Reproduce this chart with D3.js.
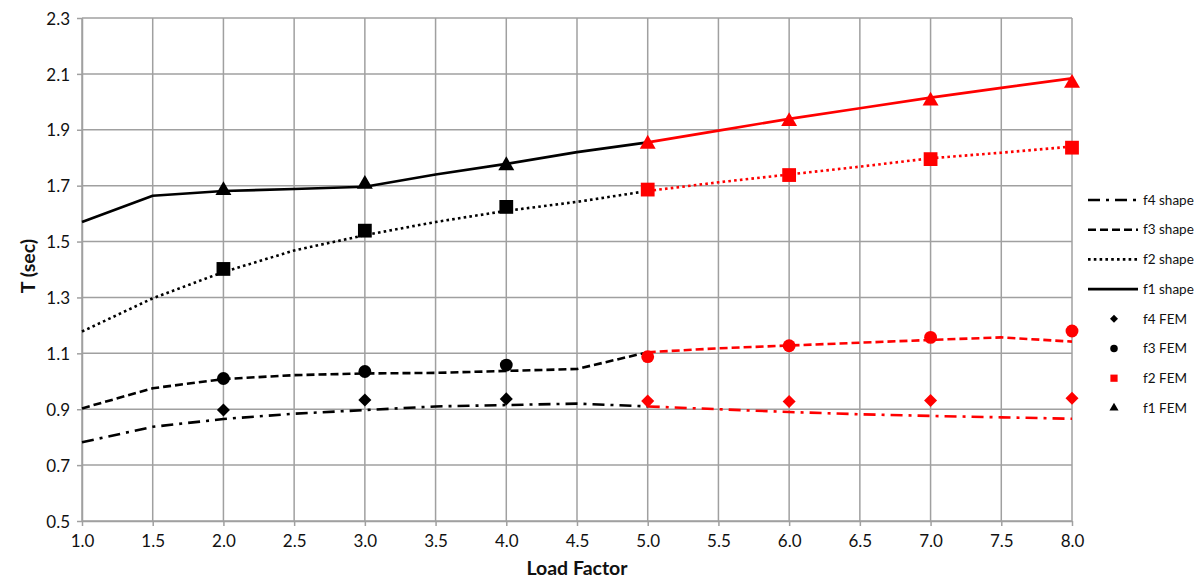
<!DOCTYPE html>
<html>
<head>
<meta charset="utf-8">
<script src="https://cdn.jsdelivr.net/npm/d3@7"></script>
<style>
  html, body { margin: 0; padding: 0; background: #fff; }
  svg { display: block; font-family: Lato, "Open Sans", "Liberation Sans", sans-serif; }
</style>
</head>
<body>
<svg id="chart" width="1204" height="580"></svg>
<script>
// Load factors sampled by the mode-shape curves
const shapeLoad = [1.0, 1.5, 2.0, 2.5, 3.0, 3.5, 4.0, 4.5, 5.0, 5.5, 6.0, 6.5, 7.0, 7.5, 8.0];
// Periods T (sec) from the mode shapes
const f1Shape = [1.570, 1.664, 1.681, 1.688, 1.696, 1.740, 1.778, 1.820, 1.855, 1.897, 1.939, 1.977, 2.015, 2.050, 2.084];
const f2Shape = [1.178, 1.297, 1.391, 1.468, 1.523, 1.570, 1.610, 1.642, 1.681, 1.712, 1.740, 1.768, 1.798, 1.818, 1.840];
const f3Shape = [0.903, 0.975, 1.008, 1.022, 1.028, 1.030, 1.037, 1.044, 1.104, 1.118, 1.128, 1.138, 1.148, 1.157, 1.142];
const f4Shape = [0.782, 0.837, 0.865, 0.884, 0.897, 0.910, 0.915, 0.920, 0.910, 0.900, 0.890, 0.882, 0.876, 0.871, 0.866];

// Load factors of the FEM runs
const femLoad = [2.0, 3.0, 4.0, 5.0, 6.0, 7.0, 8.0];
const f1Fem = [1.683, 1.705, 1.772, 1.849, 1.930, 2.003, 2.067];
const f2Fem = [1.402, 1.539, 1.624, 1.686, 1.738, 1.795, 1.836];
const f3Fem = [1.010, 1.035, 1.058, 1.088, 1.127, 1.157, 1.180];
const f4Fem = [0.897, 0.933, 0.937, 0.929, 0.928, 0.931, 0.939];

// Results at and beyond this load factor are drawn in red
const redFrom = 5.0;

// Axis ticks
const xTicks = [1.0, 1.5, 2.0, 2.5, 3.0, 3.5, 4.0, 4.5, 5.0, 5.5, 6.0, 6.5, 7.0, 7.5, 8.0];
const yTicks = [0.5, 0.7, 0.9, 1.1, 1.3, 1.5, 1.7, 1.9, 2.1, 2.3];

// Legend labels
const shapeLabels = ["f4 shape", "f3 shape", "f2 shape", "f1 shape"];
const femLabels = ["f4 FEM", "f3 FEM", "f2 FEM", "f1 FEM"];

const svg = d3.select("#chart");
const x = d3.scaleLinear().domain([1.0, 8.0]).range([82, 1072]);
const y = d3.scaleLinear().domain([0.5, 2.3]).range([521, 18]);

const gridColor = "#a0a0a0";
const RED = "#ff0000";

// Grid
const grid = svg.append("g");
grid.selectAll("line.v").data(xTicks).join("line")
  .attr("x1", d => x(d)).attr("x2", d => x(d))
  .attr("y1", y(2.3)).attr("y2", y(0.5))
  .attr("stroke", gridColor).attr("stroke-width", 1.5);
grid.selectAll("line.h").data(yTicks).join("line")
  .attr("x1", x(1.0)).attr("x2", x(8.0))
  .attr("y1", d => y(d)).attr("y2", d => y(d))
  .attr("stroke", gridColor).attr("stroke-width", 1.5);

// Axes
const fmt = d3.format(".1f");
const xAxis = svg.append("g").attr("transform", `translate(0,${y(0.5)})`)
  .call(d3.axisBottom(x).tickValues(xTicks).tickFormat(fmt).tickSize(5).tickSizeOuter(0).tickPadding(9));
const yAxis = svg.append("g").attr("transform", `translate(${x(1.0)},0)`)
  .call(d3.axisLeft(y).tickValues(yTicks).tickFormat(fmt).tickSize(5).tickSizeOuter(0).tickPadding(7));
[xAxis, yAxis].forEach(a => {
  a.select(".domain").attr("stroke", gridColor).attr("stroke-width", 1.5);
  a.selectAll(".tick line").attr("stroke", gridColor).attr("stroke-width", 1.5);
  a.selectAll(".tick text").attr("font-size", 17).attr("fill", "#111")
    .style("font-family", "Lato, 'Open Sans', sans-serif");
});
yAxis.selectAll(".tick text").attr("dy", "0.36em");

// Axis titles
svg.append("text").attr("x", 577).attr("y", 575).attr("text-anchor", "middle")
  .attr("font-size", 19.5).attr("font-weight", "bold").attr("fill", "#111").text("Load Factor");
svg.append("text").attr("transform", "translate(35,266) rotate(-90)").attr("text-anchor", "middle")
  .attr("font-size", 19.5).attr("font-weight", "bold").attr("fill", "#111").text("T (sec)");

// Line styles per mode
const styles = {
  f1: { dash: null },
  f2: { dash: "2.6,3.2" },
  f3: { dash: "8,4" },
  f4: { dash: "12,6,3,6" }
};

const line = d3.line().x(d => x(d[0])).y(d => y(d[1]));

function drawShape(values, style) {
  const pts = shapeLoad.map((l, i) => [l, values[i]]);
  const black = pts.filter(p => p[0] <= redFrom);
  const red = pts.filter(p => p[0] >= redFrom);
  [[black, "#000"], [red, RED]].forEach(([seg, col]) => {
    svg.append("path").datum(seg).attr("d", line)
      .attr("fill", "none").attr("stroke", col).attr("stroke-width", 2.6)
      .attr("stroke-linejoin", "round")
      .attr("stroke-dasharray", style.dash);
  });
}
drawShape(f4Shape, styles.f4);
drawShape(f3Shape, styles.f3);
drawShape(f2Shape, styles.f2);
drawShape(f1Shape, styles.f1);

// FEM markers (the diamond is a square turned by 45 degrees)
const markerSpec = {
  f4: { type: d3.symbolSquare, size: 85, rotate: 45 },
  f3: { type: d3.symbolCircle, size: 130, rotate: 0 },
  f2: { type: d3.symbolSquare, size: 190, rotate: 0 },
  f1: { type: d3.symbolTriangle, size: 110, rotate: 0 }
};
function drawFem(values, spec) {
  const sym = d3.symbol().type(spec.type).size(spec.size);
  svg.append("g").selectAll("path").data(femLoad.map((l, i) => [l, values[i]])).join("path")
    .attr("d", sym)
    .attr("transform", d => `translate(${x(d[0])},${y(d[1])}) rotate(${spec.rotate})`)
    .attr("fill", d => d[0] >= redFrom ? RED : "#000");
}
drawFem(f4Fem, markerSpec.f4);
drawFem(f3Fem, markerSpec.f3);
drawFem(f2Fem, markerSpec.f2);
drawFem(f1Fem, markerSpec.f1);

// Legend
const legend = svg.append("g");
const rowY = i => 200 + i * 29.7;
const shapeStyles = [styles.f4, styles.f3, styles.f2, styles.f1];
shapeLabels.forEach((lab, i) => {
  legend.append("line").attr("x1", 1088).attr("x2", 1138)
    .attr("y1", rowY(i)).attr("y2", rowY(i))
    .attr("stroke", "#000").attr("stroke-width", 2.6)
    .attr("stroke-dasharray", shapeStyles[i].dash);
  legend.append("text").attr("x", 1143).attr("y", rowY(i)).attr("dy", "0.35em")
    .attr("font-size", 13.5).attr("fill", "#111").text(lab);
});
const legendSyms = [
  { type: d3.symbolSquare, size: 32, fill: "#000", rotate: 45 },
  { type: d3.symbolCircle, size: 44, fill: "#000", rotate: 0 },
  { type: d3.symbolSquare, size: 52, fill: RED, rotate: 0 },
  { type: d3.symbolTriangle, size: 36, fill: "#000", rotate: 0 }
];
femLabels.forEach((lab, i) => {
  const yy = rowY(i + 4);
  const s = legendSyms[i];
  legend.append("path").attr("d", d3.symbol().type(s.type).size(s.size))
    .attr("transform", `translate(1114,${yy}) rotate(${s.rotate})`).attr("fill", s.fill);
  legend.append("text").attr("x", 1143).attr("y", yy).attr("dy", "0.35em")
    .attr("font-size", 13.5).attr("fill", "#111").text(lab);
});
</script>
</body>
</html>
